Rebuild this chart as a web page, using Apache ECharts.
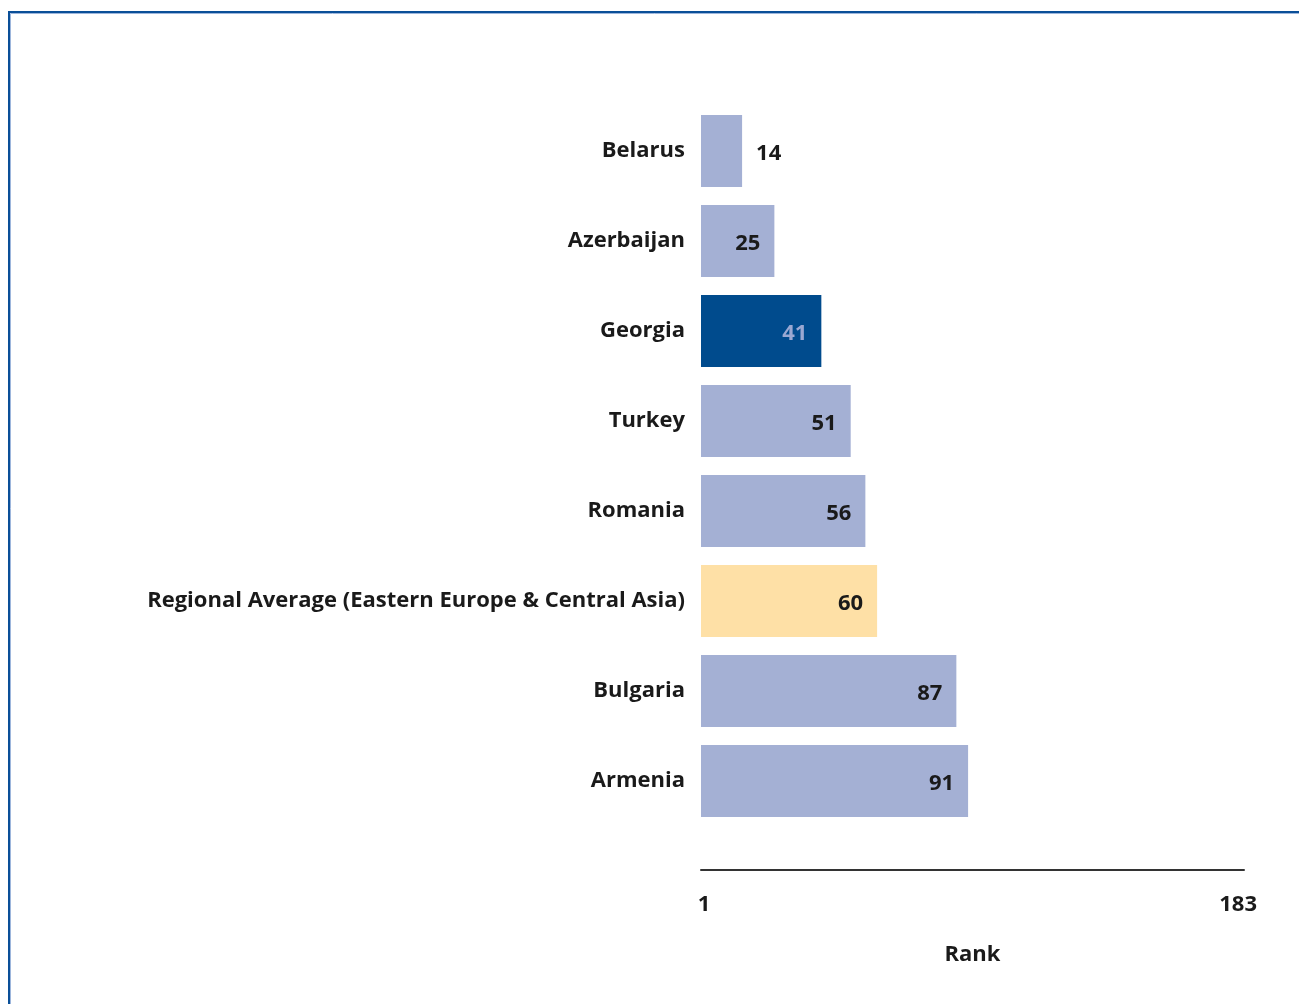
<!DOCTYPE html>
<html>
<head>
<meta charset="utf-8">
<script src="https://cdn.jsdelivr.net/npm/echarts@6/dist/echarts.min.js"></script>
<style>
  html, body { margin: 0; padding: 0; background: #fff; }
  #chart { width: 1299px; height: 1004px; }
</style>
</head>
<body>
<div id="chart"></div>
<script>
// Economy names, top to bottom
const categories = [
  'Belarus',
  'Azerbaijan',
  'Georgia',
  'Turkey',
  'Romania',
  'Regional Average (Eastern Europe & Central Asia)',
  'Bulgaria',
  'Armenia'
];
// Ranks (1 = best, out of 183 economies)
const ranks = [14, 25, 41, 51, 56, 60, 87, 91];
// Rank scale endpoints shown under the axis
const rankTicks = [1, 183];

const FONT = '"Open Sans", sans-serif';
const FS = 22;
const TEXT = '#1a1a1a';
const COL_BAR = '#a4b0d4';
const COL_FOCUS = '#004b8d';
const COL_AVG = '#fee0a6';

function barColor(name) {
  if (name === 'Georgia') return COL_FOCUS;
  if (name.indexOf('Regional Average') === 0) return COL_AVG;
  return COL_BAR;
}

const seriesData = categories.map((name, i) => {
  const item = {
    value: ranks[i],
    itemStyle: { color: barColor(name) }
  };
  if (name === 'Georgia') {
    item.label = { color: '#9aa8d2' };
  }
  if (ranks[i] < 20) {
    item.label = { position: 'right', distance: 14 };
  }
  return item;
});

const chart = echarts.init(document.getElementById('chart'), null, { renderer: 'canvas' });
chart.setOption({
  backgroundColor: '#ffffff',
  animation: false,
  grid: { left: 701, right: 55, top: 106, bottom: 178, containLabel: false },
  xAxis: {
    type: 'value',
    min: 0,
    max: 185,
    offset: 44,
    axisLine: { show: true, lineStyle: { color: '#333', width: 2 } },
    axisTick: { show: false },
    splitLine: { show: false },
    axisLabel: {
      customValues: rankTicks,
      showMinLabel: true,
      showMaxLabel: true,
      margin: 24,
      fontFamily: FONT,
      fontWeight: 'bold',
      fontSize: FS,
      color: TEXT
    },
    name: 'Rank',
    nameLocation: 'middle',
    nameGap: 74,
    nameTextStyle: { fontFamily: FONT, fontWeight: 'bold', fontSize: FS, color: TEXT }
  },
  yAxis: {
    type: 'category',
    data: categories,
    inverse: true,
    axisLine: { show: false },
    axisTick: { show: false },
    axisLabel: {
      margin: 16,
      padding: [8, 0, 0, 0],
      fontFamily: FONT,
      fontWeight: 'bold',
      fontSize: FS,
      color: TEXT
    }
  },
  series: [{
    type: 'bar',
    data: seriesData,
    barWidth: 72,
    label: {
      show: true,
      position: 'insideRight',
      distance: 14,
      offset: [0, 3],
      fontFamily: FONT,
      fontWeight: 'bold',
      fontSize: FS,
      color: TEXT
    }
  }],
  graphic: [
    // outer frame: dark blue edge with a lighter inner line
    { type: 'line', shape: { x1: 9, y1: 11, x2: 9, y2: 1004 }, style: { stroke: '#0a4f98', lineWidth: 2 } },
    { type: 'line', shape: { x1: 8, y1: 12, x2: 1299, y2: 12 }, style: { stroke: '#0a4f98', lineWidth: 2 } },
    { type: 'line', shape: { x1: 10.5, y1: 13.5, x2: 10.5, y2: 1004 }, style: { stroke: '#9db6dc', lineWidth: 1 } },
    { type: 'line', shape: { x1: 10.5, y1: 13.5, x2: 1299, y2: 13.5 }, style: { stroke: '#9db6dc', lineWidth: 1 } }
  ]
});
</script>
</body>
</html>
